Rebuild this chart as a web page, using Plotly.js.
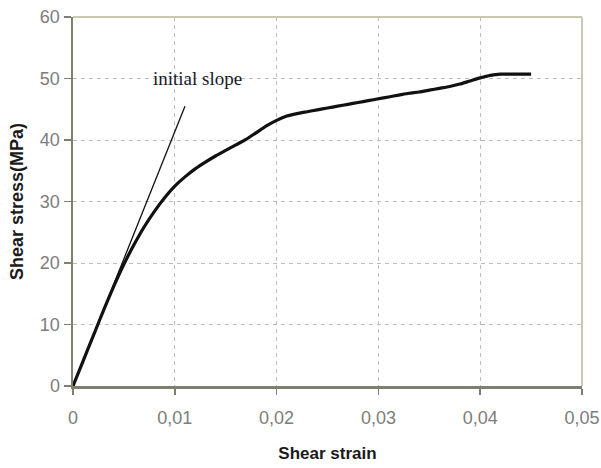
<!DOCTYPE html>
<html>
<head>
<meta charset="utf-8">
<script src="https://cdn.plot.ly/plotly-3.0.1.min.js"></script>
<style>html,body{margin:0;padding:0;background:#fff;}#chart{width:601px;height:468px;}</style>
</head>
<body>
<div id="chart"></div>
<script>
// Measured shear stress-strain curve
const strain = [0, 0.001, 0.002, 0.003, 0.004, 0.005, 0.006, 0.007, 0.008, 0.009,
  0.010, 0.011, 0.012, 0.013, 0.014, 0.015, 0.016, 0.017, 0.018, 0.019,
  0.020, 0.021, 0.022, 0.023, 0.024, 0.025, 0.026, 0.027, 0.028, 0.029,
  0.030, 0.031, 0.032, 0.033, 0.034, 0.035, 0.036, 0.037, 0.038, 0.039,
  0.040, 0.041, 0.042, 0.043, 0.044, 0.045];
const stress = [0, 4.1, 8.2, 12.3, 16.2, 19.8, 23.0, 25.9, 28.4, 30.6,
  32.5, 34.0, 35.3, 36.4, 37.4, 38.3, 39.2, 40.1, 41.2, 42.3,
  43.2, 43.9, 44.3, 44.6, 44.9, 45.2, 45.5, 45.8, 46.1, 46.4,
  46.7, 47.0, 47.3, 47.6, 47.8, 48.1, 48.4, 48.7, 49.1, 49.6,
  50.1, 50.5, 50.7, 50.7, 50.7, 50.7];
// Initial slope line
const slopeStrain = [0, 0.011];
const slopeStress = [0, 45.5];
// Axis ticks
const xTicks = [0, 0.01, 0.02, 0.03, 0.04, 0.05];
const yTicks = [0, 10, 20, 30, 40, 50, 60];
const annText = "initial slope";
const annX = 0.0122, annY = 50;

const traces = [
  {x: slopeStrain, y: slopeStress, mode: 'lines', line: {color: '#111', width: 1.3}, hoverinfo: 'skip'},
  {x: strain, y: stress, mode: 'lines', line: {color: '#111', width: 3.2, shape: 'spline', smoothing: 0.6}, hoverinfo: 'skip'}
];

const tickFont = {family: 'Liberation Sans Narrow, Arial Narrow, Liberation Sans, Arial, sans-serif', size: 18, color: '#7d7d7d'};
const titleFont = {family: 'Liberation Sans, Arial, sans-serif', size: 17, color: '#1a1a1a', weight: 'bold'};

const layout = {
  width: 601, height: 468,
  margin: {l: 73, r: 19, t: 17, b: 82},
  paper_bgcolor: '#fff', plot_bgcolor: '#fff',
  showlegend: false,
  separators: ',.',
  xaxis: {
    range: [0, 0.05], tickvals: xTicks, ticks: 'outside', ticklen: 6, tickwidth: 1.5, tickcolor: '#7f7f6f',
    showline: true, linecolor: '#7f7f6f', linewidth: 2.5,
    showgrid: true, gridcolor: '#bdbdbd', gridwidth: 1, griddash: '4px,4px',
    zeroline: false, tickfont: tickFont, ticklabelstandoff: 8, ticklabeloverflow: 'allow',
    title: {text: 'Shear strain', font: titleFont, standoff: 20}
  },
  yaxis: {
    range: [0, 60], tickvals: yTicks, ticks: 'outside', ticklen: 7, tickwidth: 1.5, tickcolor: '#7f7f6f',
    showline: true, linecolor: '#7f7f6f', linewidth: 2.5,
    showgrid: true, gridcolor: '#bdbdbd', gridwidth: 1, griddash: '4px,4px',
    zeroline: false, tickfont: tickFont, ticklabeloverflow: 'allow',
    title: {text: 'Shear stress(MPa)', font: Object.assign({}, titleFont, {size: 18}), standoff: 12}
  },
  shapes: [
    {type: 'line', xref: 'paper', yref: 'paper', x0: 0, x1: 1, y0: 1, y1: 1, line: {color: '#c9c9b2', width: 2}},
    {type: 'line', xref: 'paper', yref: 'paper', x0: 1, x1: 1, y0: 0, y1: 1, line: {color: '#c9c9b2', width: 2}}
  ],
  annotations: [
    {x: annX, y: annY, xref: 'x', yref: 'y', text: annText, showarrow: false,
     font: {family: 'Liberation Serif, Times New Roman, serif', size: 19, color: '#1a1a2a'}}
  ]
};

Plotly.newPlot('chart', traces, layout, {displayModeBar: false, staticPlot: true});
</script>
</body>
</html>
